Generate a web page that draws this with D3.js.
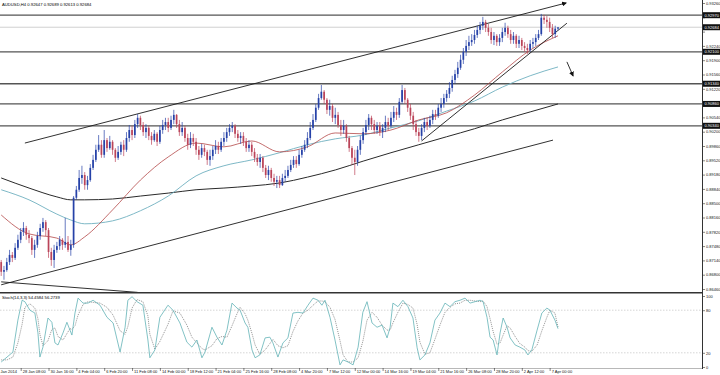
<!DOCTYPE html>
<html>
<head>
<meta charset="utf-8">
<script src="https://cdn.jsdelivr.net/npm/d3@7"></script>
<style>
body { margin: 0; background: #fff; }
svg { display: block; }
text { font-family: "Liberation Sans", Arial, sans-serif; }
</style>
</head>
<body>
<script>

const symbolTitle = "AUDUSD,H4  0.92647 0.92689 0.92613 0.92684"
const stochTitle = "Stoch(14,3,3) 54.4584 56.2739"

// H4 candles, open = previous close
const firstOpen = 0.8710
const closes = [
    0.8687, 0.8691, 0.8710, 0.8727, 0.8720, 0.8744, 0.8763, 0.8782, 0.8791, 0.8775,
    0.8767, 0.8739, 0.8751, 0.8772, 0.8791, 0.8805, 0.8786, 0.8734, 0.8715, 0.8739,
    0.8748, 0.8763, 0.8751, 0.8758, 0.8739, 0.8751, 0.8863, 0.8882, 0.8910, 0.8917,
    0.8893, 0.8905, 0.8934, 0.8953, 0.8977, 0.8989, 0.8965, 0.9000, 0.8981, 0.8996,
    0.8977, 0.8958, 0.8972, 0.8989, 0.8977, 0.9005, 0.9024, 0.9012, 0.9038, 0.9053,
    0.9036, 0.9019, 0.9029, 0.9010, 0.9000, 0.9015, 0.8996, 0.9024, 0.9036, 0.9043,
    0.9029, 0.9048, 0.9060, 0.9038, 0.9019, 0.9029, 0.9005, 0.8989, 0.9005, 0.8996,
    0.8977, 0.8965, 0.8981, 0.8972, 0.8953, 0.8962, 0.8977, 0.8986, 0.8977, 0.8996,
    0.9005, 0.9019, 0.9029, 0.9034, 0.9015, 0.9005, 0.9010, 0.8996, 0.8981, 0.8989,
    0.8972, 0.8958, 0.8948, 0.8958, 0.8934, 0.8917, 0.8929, 0.8910, 0.8901, 0.8905,
    0.8893, 0.8910, 0.8915, 0.8929, 0.8941, 0.8953, 0.8943, 0.8965, 0.8977, 0.8989,
    0.9005, 0.9029, 0.9048, 0.9077, 0.9100, 0.9115, 0.9096, 0.9072, 0.9081, 0.9053,
    0.9060, 0.9036, 0.9024, 0.9034, 0.9005, 0.8981, 0.8958, 0.8948, 0.8977, 0.9000,
    0.9019, 0.9036, 0.9053, 0.9038, 0.9024, 0.9034, 0.9019, 0.9029, 0.9043, 0.9034,
    0.9053, 0.9067, 0.9060, 0.9091, 0.9119, 0.9096, 0.9077, 0.9058, 0.9038, 0.9019,
    0.9010, 0.9029, 0.9043, 0.9034, 0.9048, 0.9062, 0.9058, 0.9077, 0.9086, 0.9100,
    0.9110, 0.9124, 0.9143, 0.9157, 0.9172, 0.9191, 0.9210, 0.9224, 0.9233, 0.9238,
    0.9250, 0.9262, 0.9272, 0.9281, 0.9267, 0.9257, 0.9238, 0.9248, 0.9233, 0.9243,
    0.9257, 0.9267, 0.9252, 0.9238, 0.9248, 0.9229, 0.9238, 0.9224, 0.9219, 0.9214,
    0.9229, 0.9233, 0.9243, 0.9252, 0.9291, 0.9286, 0.9281, 0.9267, 0.9252, 0.9265,
    0.9268
]
const highs = [
    0.8715, 0.8701, 0.8720, 0.8739, 0.8734, 0.8755, 0.8775, 0.8791, 0.8805, 0.8796,
    0.8786, 0.8772, 0.8763, 0.8782, 0.8801, 0.8815, 0.8810, 0.8791, 0.8744, 0.8751,
    0.8758, 0.8772, 0.8767, 0.8815, 0.8772, 0.8763, 0.8867, 0.8891, 0.8929, 0.8939,
    0.8924, 0.8915, 0.8943, 0.8965, 0.8989, 0.9012, 0.9000, 0.9024, 0.9005, 0.9010,
    0.9000, 0.8981, 0.8986, 0.8996, 0.9000, 0.9019, 0.9036, 0.9034, 0.9048, 0.9062,
    0.9058, 0.9043, 0.9038, 0.9034, 0.9019, 0.9024, 0.9019, 0.9034, 0.9048, 0.9053,
    0.9053, 0.9058, 0.9072, 0.9062, 0.9048, 0.9043, 0.9034, 0.9015, 0.9019, 0.9015,
    0.9005, 0.8986, 0.8991, 0.8989, 0.8977, 0.8977, 0.8986, 0.9000, 0.8996, 0.9005,
    0.9019, 0.9029, 0.9038, 0.9043, 0.9038, 0.9024, 0.9019, 0.9019, 0.9005, 0.9000,
    0.8996, 0.8981, 0.8967, 0.8967, 0.8962, 0.8941, 0.8939, 0.8934, 0.8920, 0.8915,
    0.8915, 0.8920, 0.8929, 0.8939, 0.8953, 0.8962, 0.8962, 0.8977, 0.8986, 0.9000,
    0.9019, 0.9043, 0.9062, 0.9086, 0.9110, 0.9131, 0.9119, 0.9100, 0.9096, 0.9086,
    0.9077, 0.9067, 0.9048, 0.9048, 0.9038, 0.9010, 0.8986, 0.8977, 0.8986, 0.9010,
    0.9029, 0.9048, 0.9062, 0.9058, 0.9048, 0.9043, 0.9043, 0.9038, 0.9058, 0.9053,
    0.9067, 0.9081, 0.9077, 0.9100, 0.9131, 0.9124, 0.9100, 0.9086, 0.9067, 0.9048,
    0.9029, 0.9038, 0.9053, 0.9053, 0.9058, 0.9072, 0.9072, 0.9086, 0.9100, 0.9110,
    0.9119, 0.9138, 0.9153, 0.9167, 0.9186, 0.9203, 0.9219, 0.9238, 0.9248, 0.9252,
    0.9262, 0.9272, 0.9281, 0.9293, 0.9286, 0.9276, 0.9267, 0.9257, 0.9252, 0.9252,
    0.9267, 0.9279, 0.9272, 0.9262, 0.9257, 0.9252, 0.9248, 0.9243, 0.9233, 0.9229,
    0.9238, 0.9243, 0.9252, 0.9262, 0.9300, 0.9298, 0.9295, 0.9291, 0.9276, 0.9272,
    0.9269
]
const lows = [
    0.8677, 0.8668, 0.8687, 0.8703, 0.8710, 0.8715, 0.8739, 0.8755, 0.8772, 0.8763,
    0.8755, 0.8727, 0.8720, 0.8744, 0.8763, 0.8782, 0.8772, 0.8720, 0.8701, 0.8696,
    0.8732, 0.8739, 0.8739, 0.8744, 0.8734, 0.8725, 0.8744, 0.8858, 0.8877, 0.8896,
    0.8882, 0.8882, 0.8901, 0.8929, 0.8948, 0.8972, 0.8958, 0.8958, 0.8972, 0.8977,
    0.8965, 0.8948, 0.8953, 0.8965, 0.8962, 0.8972, 0.8996, 0.9000, 0.9005, 0.9029,
    0.9024, 0.9010, 0.9005, 0.9000, 0.8989, 0.8996, 0.8986, 0.8991, 0.9015, 0.9024,
    0.9019, 0.9024, 0.9038, 0.9029, 0.9010, 0.9010, 0.8996, 0.8977, 0.8981, 0.8986,
    0.8965, 0.8953, 0.8958, 0.8962, 0.8941, 0.8939, 0.8953, 0.8967, 0.8967, 0.8972,
    0.8986, 0.8996, 0.9010, 0.9019, 0.9005, 0.8996, 0.8991, 0.8986, 0.8972, 0.8972,
    0.8962, 0.8948, 0.8939, 0.8934, 0.8924, 0.8910, 0.8905, 0.8901, 0.8891, 0.8886,
    0.8886, 0.8891, 0.8901, 0.8910, 0.8924, 0.8934, 0.8934, 0.8939, 0.8958, 0.8972,
    0.8981, 0.9000, 0.9024, 0.9043, 0.9072, 0.9096, 0.9086, 0.9062, 0.9058, 0.9043,
    0.9038, 0.9029, 0.9010, 0.9015, 0.8996, 0.8972, 0.8941, 0.8917, 0.8939, 0.8965,
    0.8991, 0.9012, 0.9024, 0.9024, 0.9015, 0.9015, 0.9010, 0.9005, 0.9019, 0.9024,
    0.9029, 0.9043, 0.9048, 0.9053, 0.9086, 0.9086, 0.9067, 0.9048, 0.9024, 0.9010,
    0.8996, 0.9000, 0.9019, 0.9024, 0.9029, 0.9038, 0.9048, 0.9053, 0.9067, 0.9077,
    0.9091, 0.9100, 0.9115, 0.9134, 0.9148, 0.9167, 0.9181, 0.9200, 0.9214, 0.9224,
    0.9229, 0.9243, 0.9252, 0.9262, 0.9257, 0.9248, 0.9229, 0.9226, 0.9224, 0.9224,
    0.9233, 0.9248, 0.9243, 0.9229, 0.9229, 0.9219, 0.9219, 0.9214, 0.9210, 0.9205,
    0.9210, 0.9219, 0.9224, 0.9238, 0.9248, 0.9276, 0.9267, 0.9257, 0.9243, 0.9243,
    0.9261
]

// moving averages read at these bars
const maBars = [0, 10, 20, 25, 30, 40, 50, 60, 70, 80, 90, 100, 110, 120, 130, 140, 150, 160, 170, 180, 190, 200]
const redMA = [0.8822, 0.8777, 0.8767, 0.8751, 0.8770, 0.8834, 0.8905, 0.8960, 0.8993, 0.8984, 0.8998,
    0.8972, 0.8984, 0.9017, 0.9015, 0.9024, 0.9048, 0.9065, 0.9107, 0.9162, 0.9214, 0.9248]
const tealMA = [0.8882, 0.8858, 0.8824, 0.8810, 0.8801, 0.8808, 0.8832, 0.8867, 0.8915, 0.8939, 0.8953,
    0.8970, 0.8989, 0.9003, 0.9012, 0.9029, 0.9046, 0.9069, 0.9093, 0.9126, 0.9153, 0.9174]
const blackMA = [0.8910, 0.8886, 0.8865, 0.8858, 0.8858, 0.8860, 0.8867, 0.8874, 0.8882, 0.8886, 0.8891,
    0.8898, 0.8912, 0.8929, 0.8950, 0.8970, 0.8989, 0.9008, 0.9027, 0.9048, 0.9067, 0.9086]

// drawn objects: [bar, price]
const channelTop = [[8.5, 0.8993], [202.9, 0.9326]]
const channelBottom = [[0, 0.8656], [198.2, 0.9000]]
const fallingLine = [[0, 0.8663], [49, 0.8638]]
const supportLine = [[151, 0.8998], [203.2, 0.9278]]
const downArrow = [[203.2, 0.9186], [205.4, 0.9153]]

const levelPrices = [0.9297, 0.9210, 0.9134, 0.9086, 0.9034]
const bidPrice = 0.92684

const priceTicks = [0.86460, 0.86800, 0.87140, 0.87480, 0.87820, 0.88160, 0.88500, 0.88840, 0.89180,
    0.89520, 0.89860, 0.90200, 0.90540, 0.90880, 0.91220, 0.91560, 0.91900, 0.92240, 0.92580,
    0.92920, 0.93260]
const stochTicks = [0, 20, 80, 100]

const timeBars = [-3, 7, 17, 27, 37, 47, 57, 67, 77, 87, 97, 107, 117, 127, 137, 147, 157, 167, 177, 187, 197]
const timeLabels = ["27 Jan 2014", "28 Jan 08:00", "30 Jan 16:00", "4 Feb 04:00", "6 Feb 20:00",
    "11 Feb 08:00", "14 Feb 00:00", "18 Feb 12:00", "21 Feb 04:00", "25 Feb 16:00", "28 Feb 08:00",
    "4 Mar 20:00", "7 Mar 12:00", "12 Mar 00:00", "14 Mar 16:00", "19 Mar 04:00", "21 Mar 16:00",
    "26 Mar 08:00", "28 Mar 20:00", "2 Apr 12:00", "7 Apr 00:00"]

// stochastic %K / %D
const stochBars = [0, 2.1, 4.2, 6.0, 7.5, 8.5, 10.3, 12.1, 13.2, 13.9,
    15.0, 16.8, 18.2, 19.3, 20.4, 22.2, 23.6, 24.7, 25.4, 26.5,
    27.6, 29.4, 31.2, 33.0, 35.5, 38.0, 40.2, 42.7, 44.5, 45.5,
    47.0, 48.8, 50.9, 52.7, 53.4, 55.2, 57.0, 59.9, 61.7, 64.2,
    66.7, 68.5, 70.3, 72.1, 73.2, 75.7, 77.5, 79.3, 81.1, 82.9,
    84.7, 85.8, 87.6, 88.6, 90.1, 91.2, 92.9, 94.8, 96.5, 97.6,
    99.4, 101.2, 103.0, 104.8, 106.6, 108.4, 110.2, 112.0, 113.8, 115.2,
    116.3, 118.1, 119.9, 121.7, 122.8, 124.6, 126.4, 128.2, 129.9, 131.4,
    133.2, 135.0, 136.8, 138.6, 139.7, 140.7, 142.5, 144.3, 146.1, 147.9,
    149.4, 150.4, 152.2, 154.0, 155.8, 157.6, 159.4, 161.2, 163.0, 164.8,
    166.6, 168.4, 170.2, 172.0, 173.1, 174.5, 175.6, 176.7, 178.1, 179.2,
    180.3, 181.7, 182.8, 184.6, 186.3, 188.1, 189.2, 190.6, 192.5, 194.2,
    196.0, 197.1, 198.9, 200]
const stochK = [7, 14, 21, 66, 94, 92, 80, 76, 48, 14,
    28, 69, 63, 34, 31, 48, 63, 52, 45, 76,
    97, 90, 90, 94, 87, 70, 62, 21, 56, 94,
    99, 92, 87, 38, 13, 24, 70, 87, 80, 62,
    35, 28, 38, 13, 21, 56, 42, 31, 52, 90,
    83, 80, 62, 56, 24, 13, 17, 41, 42, 34,
    14, 34, 41, 76, 77, 76, 87, 97, 94, 87,
    94, 70, 38, 3, 10, 7, 3, 28, 77, 92,
    62, 56, 59, 41, 56, 90, 85, 94, 85, 69,
    27, 10, 17, 34, 66, 76, 90, 85, 92, 94,
    97, 90, 92, 94, 92, 70, 42, 38, 17, 48,
    69, 56, 41, 31, 28, 24, 17, 24, 52, 76,
    83, 80, 66, 54]
const stochD = [10, 10, 14, 34, 60, 84, 89, 83, 68, 46,
    30, 37, 53, 55, 43, 38, 47, 54, 53, 58,
    73, 88, 92, 91, 90, 84, 73, 51, 46, 57,
    83, 95, 92, 72, 46, 25, 36, 60, 79, 76,
    59, 42, 34, 26, 24, 30, 40, 43, 42, 58,
    75, 84, 75, 66, 47, 31, 18, 24, 33, 39,
    30, 27, 30, 50, 65, 76, 80, 87, 93, 93,
    92, 84, 67, 37, 17, 7, 7, 13, 36, 66,
    77, 70, 59, 52, 52, 62, 77, 90, 88, 83,
    60, 35, 18, 20, 39, 59, 77, 84, 89, 90,
    94, 94, 93, 92, 93, 85, 68, 50, 32, 34,
    45, 58, 55, 43, 33, 28, 23, 22, 31, 51,
    70, 80, 76, 56]

window.onload = function () {

    const axisX = 702
    const mainBottom = 292
    const stochTop = 294
    const stochBottom = 368
    const fmt = d3.format('.5f')

    const svg = d3.select('body').append('svg')
        .attr('width', 720)
        .attr('height', 375)

    const x = d3.scaleLinear().domain([0, 200]).range([1.2, 558])
    const y = d3.scaleLinear().domain([0.8646, 0.9326]).range([289, 3])
    const ys = d3.scaleLinear().domain([0, 100]).range([367, 296])

    const defs = svg.append('defs')
    defs.append('clipPath').attr('id', 'clipMain')
        .append('rect').attr('x', 0).attr('y', 0).attr('width', axisX).attr('height', mainBottom)
    defs.append('clipPath').attr('id', 'clipStoch')
        .append('rect').attr('x', 0).attr('y', stochTop).attr('width', axisX).attr('height', stochBottom - stochTop)
    defs.append('marker')
        .attr('id', 'arrow')
        .attr('viewBox', '0 0 10 10')
        .attr('refX', 8).attr('refY', 5)
        .attr('markerWidth', 5).attr('markerHeight', 5)
        .attr('markerUnits', 'userSpaceOnUse')
        .attr('orient', 'auto')
        .append('path').attr('d', 'M0,0 L10,5 L0,10 Z').attr('fill', '#111')

    const gMain = svg.append('g').attr('clip-path', 'url(#clipMain)')

    // horizontal levels
    gMain.append('line')
        .attr('x1', 0).attr('x2', axisX)
        .attr('y1', y(bidPrice)).attr('y2', y(bidPrice))
        .attr('stroke', '#d0d0d0').attr('stroke-width', 1)

    gMain.selectAll('line.level')
        .data(levelPrices)
        .join('line')
        .attr('class', 'level')
        .attr('x1', 0).attr('x2', axisX)
        .attr('y1', d => y(d)).attr('y2', d => y(d))
        .attr('stroke', '#555').attr('stroke-width', 1.3)

    // moving averages
    function drawMA(values, color, width){
        const pts = maBars.map((b, i) => [b, values[i]])
        gMain.append('path')
            .datum(pts)
            .attr('fill', 'none')
            .attr('stroke', color)
            .attr('stroke-width', width)
            .attr('d', d3.line().x(d => x(d[0])).y(d => y(d[1])).curve(d3.curveMonotoneX))
    }
    drawMA(blackMA, '#2a2a2a', 1)
    drawMA(tealMA, '#6fb0c0', 0.9)
    drawMA(redMA, '#b44848', 0.8)

    // trend lines
    function drawLine(pts, arrow){
        const l = gMain.append('line')
            .attr('x1', x(pts[0][0])).attr('y1', y(pts[0][1]))
            .attr('x2', x(pts[1][0])).attr('y2', y(pts[1][1]))
            .attr('stroke', '#1a1a1a').attr('stroke-width', 0.9)
        if (arrow) l.attr('marker-end', 'url(#arrow)')
    }
    drawLine(channelTop, true)
    drawLine(channelBottom, false)
    drawLine(fallingLine, false)
    drawLine(supportLine, false)
    drawLine(downArrow, true)

    // candles
    const bars = closes.map((c, i) => {
        const o = i === 0 ? firstOpen : closes[i - 1]
        return {i: i, o: o, c: c, h: Math.max(highs[i], o, c), l: Math.min(lows[i], o, c)}
    })
    const colorOf = d => d.c >= d.o ? '#2642a8' : '#bb4459'

    gMain.selectAll('line.wick')
        .data(bars)
        .join('line')
        .attr('class', 'wick')
        .attr('x1', d => x(d.i)).attr('x2', d => x(d.i))
        .attr('y1', d => y(d.h)).attr('y2', d => y(d.l))
        .attr('stroke', colorOf)
        .attr('stroke-width', 0.7)

    gMain.selectAll('rect.body')
        .data(bars)
        .join('rect')
        .attr('class', 'body')
        .attr('x', d => x(d.i) - 0.85)
        .attr('width', 1.7)
        .attr('y', d => y(Math.max(d.o, d.c)))
        .attr('height', d => Math.max(0.7, Math.abs(y(d.o) - y(d.c))))
        .attr('fill', colorOf)

    svg.append('text')
        .attr('x', 2).attr('y', 6)
        .attr('font-size', 4.2)
        .attr('fill', '#000')
        .text(symbolTitle)

    // panel separator and frame
    svg.append('line')
        .attr('x1', 0).attr('x2', axisX)
        .attr('y1', 292.7).attr('y2', 292.7)
        .attr('stroke', '#333').attr('stroke-width', 1.6)
    svg.append('line')
        .attr('x1', axisX + 0.5).attr('x2', axisX + 0.5)
        .attr('y1', 0).attr('y2', 369)
        .attr('stroke', '#333').attr('stroke-width', 1)
    svg.append('line')
        .attr('x1', 0).attr('x2', axisX)
        .attr('y1', stochBottom + 0.5).attr('y2', stochBottom + 0.5)
        .attr('stroke', '#888').attr('stroke-width', 0.6)

    // stochastic
    const gStoch = svg.append('g').attr('clip-path', 'url(#clipStoch)')
    gStoch.selectAll('line.stlevel')
        .data([20, 80])
        .join('line')
        .attr('x1', 0).attr('x2', axisX)
        .attr('y1', d => ys(d)).attr('y2', d => ys(d))
        .attr('stroke', '#b8b8b8').attr('stroke-width', 0.6)
        .attr('stroke-dasharray', '1.5,1.5')

    const stLine = d3.line().x(d => x(d[0])).y(d => ys(d[1]))
    gStoch.append('path')
        .datum(stochBars.map((b, i) => [b, stochD[i]]))
        .attr('fill', 'none')
        .attr('stroke', '#666')
        .attr('stroke-width', 0.7)
        .attr('stroke-dasharray', '1,1')
        .attr('d', stLine)
    gStoch.append('path')
        .datum(stochBars.map((b, i) => [b, stochK[i]]))
        .attr('fill', 'none')
        .attr('stroke', '#62b2b6')
        .attr('stroke-width', 0.8)
        .attr('d', stLine)

    svg.append('text')
        .attr('x', 2).attr('y', 299)
        .attr('font-size', 4.2)
        .attr('fill', '#000')
        .text(stochTitle)

    // axes
    function styleAxis(g){
        g.select('.domain').remove()
        g.attr('font-size', 4).attr('font-family', '"Liberation Sans", Arial, sans-serif')
        g.selectAll('.tick line').attr('stroke', '#333').attr('stroke-width', 0.6)
        g.selectAll('.tick text').attr('fill', '#111')
    }

    // price boxes sit on top of the scale, labels hidden under them are skipped
    const boxes = levelPrices.concat([bidPrice])
    const hidden = p => boxes.some(b => Math.abs(y(b) - y(p)) < 5)

    const gPrice = svg.append('g')
        .attr('transform', 'translate(' + axisX + ',0)')
        .call(d3.axisRight(y).tickValues(priceTicks).tickSize(3).tickPadding(1).tickFormat(fmt))
        .call(styleAxis)
    gPrice.selectAll('.tick text')
        .filter(d => hidden(d))
        .remove()

    svg.append('g')
        .attr('transform', 'translate(' + axisX + ',0)')
        .call(d3.axisRight(ys).tickValues(stochTicks).tickSize(3).tickPadding(1).tickFormat(d3.format('d')))
        .call(styleAxis)

    const gTime = svg.append('g')
        .attr('transform', 'translate(0,' + stochBottom + ')')
        .call(d3.axisBottom(x).tickValues(timeBars).tickSize(3).tickPadding(0).tickFormat((d, i) => timeLabels[i]))
        .call(styleAxis)
    gTime.selectAll('.tick text')
        .attr('text-anchor', 'start')
        .attr('dx', 1.5)
        .attr('dy', '0.6em')

    const gBox = svg.append('g')
    gBox.selectAll('rect')
        .data(boxes)
        .join('rect')
        .attr('x', axisX + 1).attr('width', 17)
        .attr('y', d => y(d) - 3).attr('height', 6)
        .attr('fill', '#111')
    gBox.selectAll('text')
        .data(boxes)
        .join('text')
        .attr('x', axisX + 2.5)
        .attr('y', d => y(d) + 1.5)
        .attr('font-size', 4)
        .attr('fill', '#fff')
        .text(d => fmt(d))
}

</script>
</body>
</html>
